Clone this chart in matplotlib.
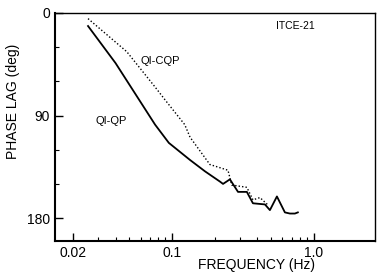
import matplotlib
matplotlib.use("Agg")
import matplotlib.pyplot as plt
from matplotlib.ticker import FixedLocator, NullFormatter

plt.rcParams['font.family'] = ['Liberation Sans', 'DejaVu Sans']

# QI-QP (solid)
f_qp = [0.0256, 0.04, 0.076, 0.095, 0.134, 0.171, 0.218, 0.229, 0.256, 0.292,
        0.337, 0.372, 0.452, 0.49, 0.549, 0.625, 0.678, 0.735, 0.771]
ph_qp = [11.5, 44, 98, 114, 129, 139, 148, 150, 146, 157,
         157, 167, 168, 173, 161, 175, 176, 176, 175]

# QI-CQP (dotted)
f_cqp = [0.0256, 0.048, 0.076, 0.089, 0.123, 0.134, 0.185, 0.248, 0.264, 0.337,
         0.372, 0.417, 0.47]
ph_cqp = [5, 34, 65, 76, 98, 109, 133, 138, 151, 153, 164, 162, 168]

xticks = [0.02, 0.1, 1.0]
xticklabels = ['0.02', '0.1', '1.0']
yticks = [0, 90, 180]

fig = plt.figure(figsize=(3.8, 2.75), dpi=100)
ax = fig.add_axes([0.145, 0.124, 0.842, 0.829])

ax.plot(f_qp, ph_qp, color='black', lw=1.3)
ax.plot(f_cqp, ph_cqp, color='black', lw=1.0, ls=(0, (1, 1.5)))

ax.set_xscale('log')
ax.set_xlim(0.015, 2.7)
ax.set_ylim(200, 0)

ax.xaxis.set_major_locator(FixedLocator(xticks))
ax.set_xticklabels(xticklabels)
minor_x = [k * 0.01 for k in range(3, 10)] + [k * 0.1 for k in range(2, 10)]
ax.xaxis.set_minor_locator(FixedLocator(minor_x))
ax.xaxis.set_minor_formatter(NullFormatter())
ax.set_yticks(yticks)
ax.yaxis.set_minor_locator(FixedLocator([30, 60, 120, 150]))

ax.tick_params(which='both', direction='in', labelsize=10, top=False, right=False)
ax.tick_params(which='major', length=6, width=1)
ax.tick_params(which='minor', length=3, width=0.8)
for s in ax.spines.values():
    s.set_linewidth(1.0)
ax.spines['left'].set_linewidth(1.5)
ax.spines['bottom'].set_linewidth(1.5)

ax.set_xlabel('FREQUENCY (Hz)', fontsize=10)
ax.xaxis.set_label_coords(0.63, -0.075)
ax.set_ylabel('PHASE LAG (deg)', fontsize=10)
ax.yaxis.set_label_coords(-0.11, 0.61)

ax.text(0.082, 42, 'QI-CQP', fontsize=8, ha='center', va='center')
ax.text(0.037, 95, 'QI-QP', fontsize=8, ha='center', va='center')
ax.text(0.735, 11.5, 'ITCE-21', fontsize=7.5, ha='center', va='center')

fig.savefig('out.png', dpi=100)
